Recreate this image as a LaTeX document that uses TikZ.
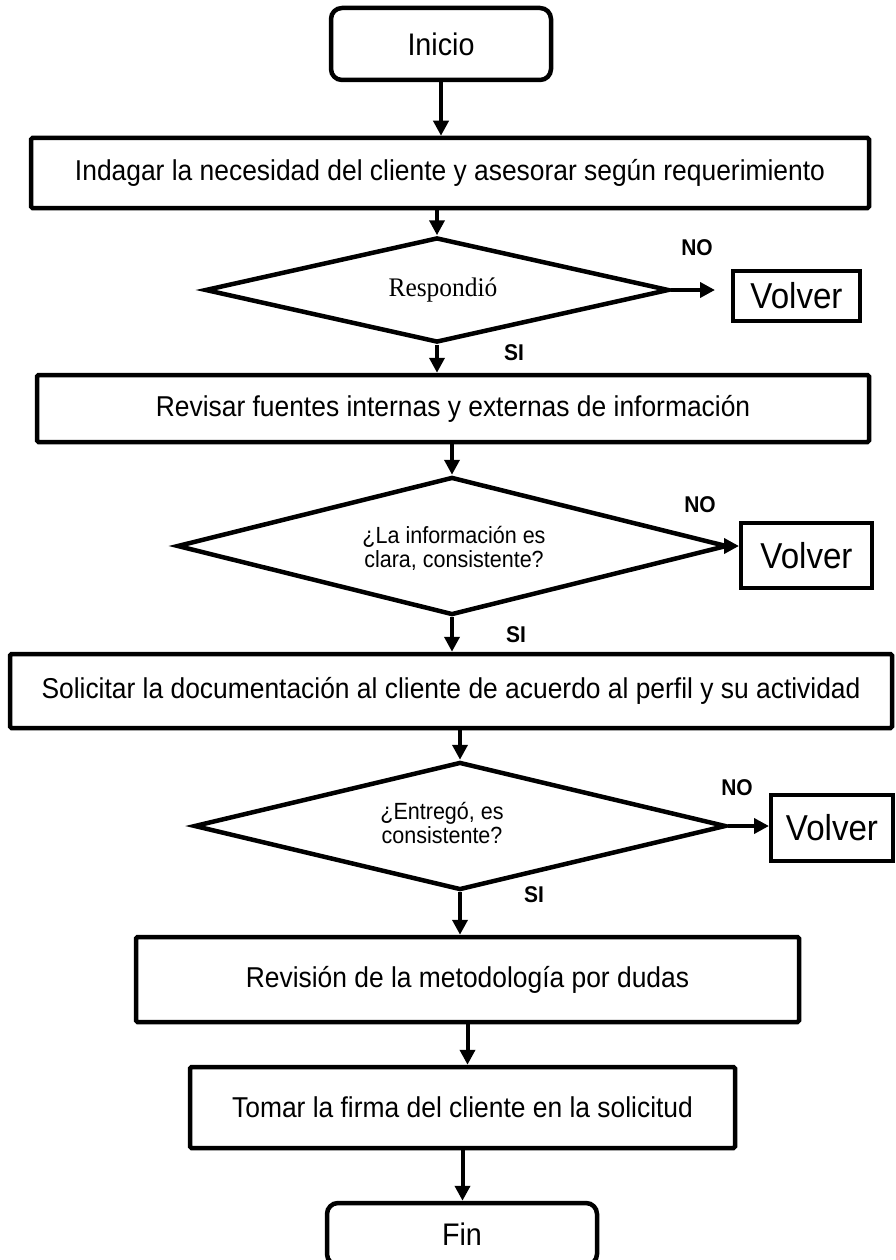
\documentclass[tikz,border=0pt]{standalone}
\usepackage{fontspec}
\setmainfont[FakeStretch=0.92]{Liberation Sans}
\newfontfamily\timesfont[FakeStretch=0.95]{Liberation Serif}
\usetikzlibrary{arrows.meta,shapes.geometric}
\begin{document}
\begin{tikzpicture}[x=1pt,y=-1pt,
  box/.style={draw, line width=4.5pt, rounded corners=1.5pt, inner sep=0pt, font=\fontsize{28.7}{32}\selectfont},
  term/.style={draw, line width=4.5pt, rounded corners=11pt, inner sep=0pt, font=\fontsize{31.2}{34}\selectfont},
  dec/.style={draw, diamond, line width=4.5pt, inner sep=0pt},
  dtext/.style={align=center, inner sep=0pt, font=\fontsize{23.4}{24}\selectfont},
  vbox/.style={draw, line width=4pt, inner sep=0pt, font=\fontsize{36}{38}\selectfont},
  lab/.style={inner sep=0pt, font=\bfseries\fontsize{22.8}{24}\selectfont},
  arr/.style={line width=4pt, -{Triangle[length=15pt,width=15pt]}}
]
\useasboundingbox (0,0) rectangle (895,1260);
\fill[white] (0,0) rectangle (895,1260);

% terminals and process boxes
\node[term, minimum width=220pt, minimum height=72pt] (ini) at (441,44) {Inicio};
\node[box, minimum width=838pt, minimum height=70pt] (b1) at (450,173) {Indagar la necesidad del cliente y asesorar según requerimiento};
\node[box, minimum width=832pt, minimum height=67pt] (b2) at (453,408.5) {Revisar fuentes internas y externas de información};
\node[box, minimum width=882pt, minimum height=74pt] (b3) at (451,691) {Solicitar la documentación al cliente de acuerdo al perfil y su actividad};
\node[box, minimum width=663pt, minimum height=85pt] (b4) at (467.5,979.5) {Revisión de la metodología por dudas};
\node[box, minimum width=545pt, minimum height=81pt] (b5) at (462.5,1107.5) {Tomar la firma del cliente en la solicitud};
\node[term, minimum width=270pt, minimum height=62pt] (fin) at (462,1234) {Fin};

% decisions
\node[dec, minimum width=464pt, minimum height=105pt] (d1) at (437,290) {};
\node[inner sep=0pt, font=\timesfont\fontsize{26.8}{28}\selectfont] (t1) at (443,290) {Respondió};
\node[dec, minimum width=550pt, minimum height=138pt] (d2) at (452,546) {};
\node[dtext] (t2) at (454,548) {¿La información es\\clara, consistente?};
\node[dec, minimum width=532pt, minimum height=128pt] (d3) at (460,826) {};
\node[dtext] (t3) at (442,823) {¿Entregó, es\\consistente?};

% Volver boxes
\node[vbox, minimum width=127pt, minimum height=50pt] (v1) at (796.5,296) {Volver};
\node[vbox, minimum width=131pt, minimum height=65pt] (v2) at (806.5,555.5) {Volver};
\node[vbox, minimum width=122pt, minimum height=66pt] (v3) at (832,828) {Volver};

% labels
\node[lab] (no1) at (697,248) {NO};
\node[lab] (no2) at (700,505) {NO};
\node[lab] (no3) at (737,788) {NO};
\node[lab] (si1) at (514,353) {SI};
\node[lab] (si2) at (516,635) {SI};
\node[lab] (si3) at (534,895) {SI};

% connectors
\draw[arr] (ini.south) -- (ini.south |- b1.north);
\draw[arr] (d1.north |- b1.south) -- (d1.north);
\draw[arr] (d1.south) -- (d1.south |- b2.north);
\draw[arr] (d2.north |- b2.south) -- (d2.north);
\draw[arr] (d2.south) -- (d2.south |- b3.north);
\draw[arr] (d3.north |- b3.south) -- (d3.north);
\draw[arr] (d3.south) -- (d3.south |- b4.north);
\draw[arr] (b4.south) -- (b4.south |- b5.north);
\draw[arr] (b5.south) -- (b5.south |- fin.north);
\draw[arr, shorten >=16pt] (d1.east) -- (d1.east -| v1.west);
\draw[arr] (d2.east) -- (d2.east -| v2.west);
\draw[arr] (d3.east) -- (d3.east -| v3.west);
\end{tikzpicture}
\end{document}
